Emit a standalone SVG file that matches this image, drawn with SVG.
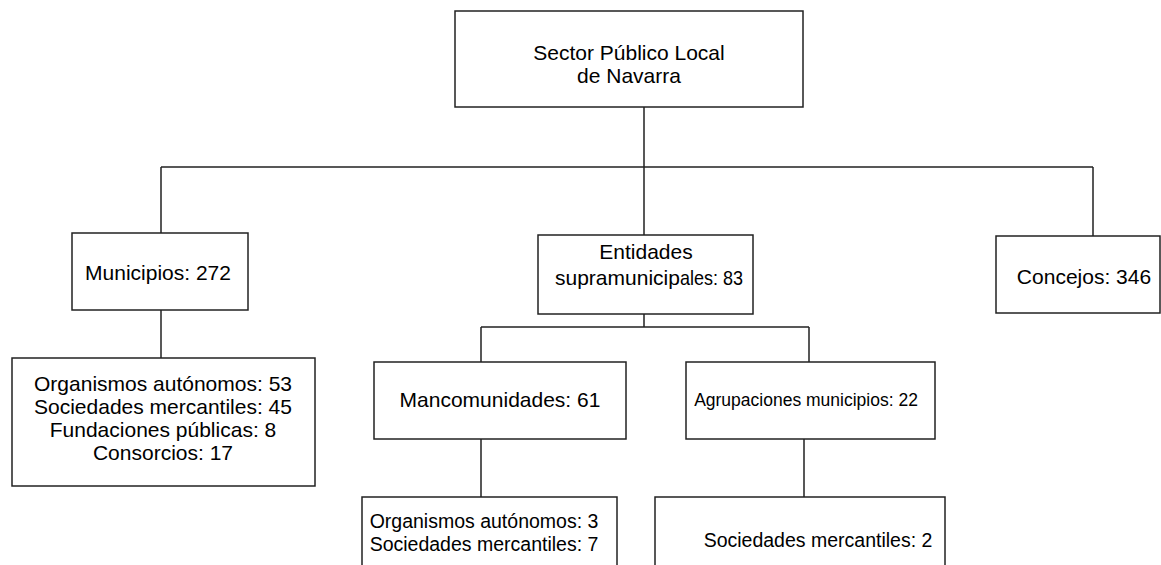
<svg xmlns="http://www.w3.org/2000/svg" width="1161" height="565" viewBox="0 0 1161 565">
<style>
.box{fill:#fff;stroke:#222;stroke-width:1.5}
.t{font-family:"Liberation Sans",Arial,sans-serif;font-size:21px;fill:#000;text-anchor:middle}
.s{font-size:17.5px}
.b{font-size:19.5px}
.c{fill:none;stroke:#222;stroke-width:1.5}
</style>
<rect width="1161" height="565" fill="#fff"/>
<g id="connectors">
<path class="c" d="M644 107V167M161 167H1093M161 167V233M644 167V235M1093 167V236"/>
<path class="c" d="M161 310V358"/>
<path class="c" d="M644 314V327M481 327H809M481 327V362M809 327V362"/>
<path class="c" d="M481 439V497M804 439V497"/>
</g>
<g id="n-root">
<rect class="box" x="455" y="11" width="348" height="96"/>
<text class="t" x="629" y="60">Sector Público Local</text>
<text class="t" x="629" y="83">de Navarra</text>
</g>
<g id="n-municipios">
<rect class="box" x="72" y="233" width="176" height="77"/>
<text class="t" x="158" y="280">Municipios: 272</text>
</g>
<g id="n-entidades">
<rect class="box" x="538" y="235" width="215" height="79"/>
<text class="t" x="646" y="259">Entidades</text>
<text class="t" x="555" y="285" style="text-anchor:start">supramunicip</text>
<text class="t" x="680" y="285" style="text-anchor:start" textLength="63" lengthAdjust="spacingAndGlyphs">ales: 83</text>
</g>
<g id="n-concejos">
<rect class="box" x="996" y="236" width="164" height="77"/>
<text class="t" x="1084" y="284">Concejos: 346</text>
</g>
<g id="n-mun-entes">
<rect class="box" x="12" y="358" width="303" height="128"/>
<text class="t" x="163" y="391">Organismos autónomos: 53</text>
<text class="t" x="163" y="414">Sociedades mercantiles: 45</text>
<text class="t" x="163" y="437">Fundaciones públicas: 8</text>
<text class="t" x="163" y="460">Consorcios: 17</text>
</g>
<g id="n-mancomunidades">
<rect class="box" x="374" y="362" width="252" height="77"/>
<text class="t" x="500" y="407">Mancomunidades: 61</text>
</g>
<g id="n-agrupaciones">
<rect class="box" x="686" y="362" width="249" height="77"/>
<text class="t s" x="806" y="406">Agrupaciones municipios: 22</text>
</g>
<g id="n-manc-entes">
<rect class="box" x="362" y="497" width="255" height="80"/>
<text class="t b" x="484" y="528">Organismos autónomos: 3</text>
<text class="t b" x="484" y="551">Sociedades mercantiles: 7</text>
</g>
<g id="n-agr-entes">
<rect class="box" x="655" y="497" width="290" height="80"/>
<text class="t b" x="818" y="547">Sociedades mercantiles: 2</text>
</g>
</svg>
